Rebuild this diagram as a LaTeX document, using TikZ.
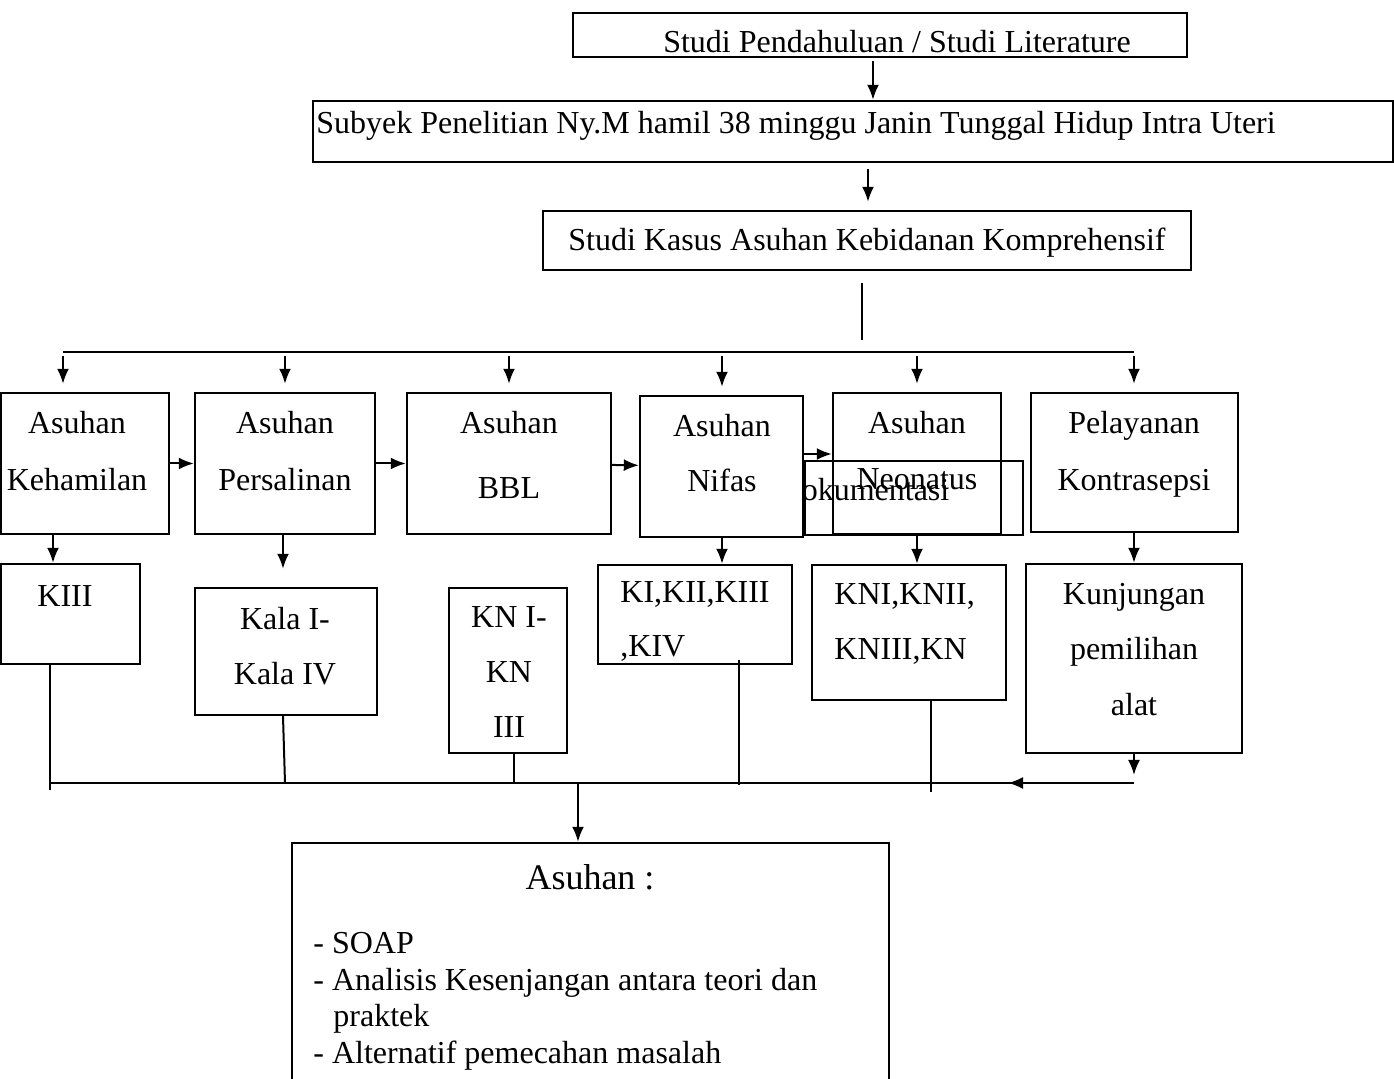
\documentclass[tikz,border=0pt]{standalone}
\usepackage{fontspec}
\setmainfont{Liberation Serif}
\usetikzlibrary{arrows.meta,fit}
\tikzset{
  box/.style={draw, line width=1.2pt, inner sep=0pt},
  txt/.style={anchor=base, inner sep=0pt, font=\fontsize{16}{19}\selectfont},
  ln/.style={line width=1pt},
}
\begin{document}
\begin{tikzpicture}[x=0.5pt, y=-0.5pt, >={Latex[length=7.5pt,width=6pt]}]
\useasboundingbox (0,0) rectangle (1394,1079);

% kepala alur
\node[box, fit={(573,13)(1187,57)}] (studi) {};
\node[txt] (studit) at (897,53) {Studi Pendahuluan / Studi Literature};
\node[box, fit={(313,101)(1393,162)}] (subyek) {};
\node[txt, anchor=base west] (subyekt) at (316,134) {Subyek Penelitian Ny.M hamil 38 minggu Janin Tunggal Hidup Intra Uteri};
\node[box, fit={(543,211)(1191,270)}] (kasus) {};
\node[txt] (kasust) at (867,251) {Studi Kasus Asuhan Kebidanan Komprehensif};

\draw[ln,->, shorten <=1.5pt] (873,0 |- studi.south) -- (873,0 |- subyek.north);
\draw[ln,->, shorten <=3pt, shorten >=4pt] (868,0 |- subyek.south) -- (868,0 |- kasus.north);

\coordinate (topL) at (63,352);
\coordinate (topR) at (1134,352);
\draw[ln, shorten <=6pt, shorten >=6pt] (862,0 |- kasus.south) -- (862,0 |- topL);
\draw[ln] (topL) -- (topR);

% baris asuhan
\node[box, fit={(1,393)(169,534)}] (hamil) {};
\node[txt] (hamil1) at (77,434) {Asuhan};
\node[txt] (hamil2) at (77,491) {Kehamilan};

\node[box, fit={(195,393)(375,534)}] (salin) {};
\node[txt] (salin1) at (285,434) {Asuhan};
\node[txt] (salin2) at (285,491) {Persalinan};

\node[box, fit={(407,393)(611,534)}] (bbl) {};
\node[txt] (bbl1) at (509,434) {Asuhan};
\node[txt] (bbl2) at (509,499) {BBL};

\node[box, fit={(805,461)(1023,535)}] (dok) {};
\node[txt] (dokt) at (864,501) {Dokumentasi};

\node[box, fill=white, fit={(640,396)(803,537)}] (nifas) {};
\node[txt] (nifas1) at (722,437) {Asuhan};
\node[txt] (nifas2) at (722,492) {Nifas};

\node[box, fit={(833,393)(1001,534)}] (neo) {};
\node[txt] (neo1) at (917,434) {Asuhan};
\node[txt] (neo2) at (917,490) {Neonatus};

\node[box, fit={(1031,393)(1238,532)}] (kb) {};
\node[txt] (kb1) at (1134,434) {Pelayanan};
\node[txt] (kb2) at (1134,491) {Kontrasepsi};

\foreach \x/\n in {63/hamil,285/salin,509/bbl,722/nifas,917/neo,1134/kb}
  \draw[ln,->, shorten <=2pt, shorten >=4pt] (\x,0 |- topL) -- (\x,0 |- \n.north);

\draw[ln,->] (hamil) -- (salin);
\draw[ln,->] (salin) -- (bbl);
\draw[ln,->] (bbl) -- (nifas);
\draw[ln,->] (nifas.east |- 0,454) -- (neo.west |- 0,454);

% baris kunjungan
\node[box, fit={(1,564)(140,664)}] (kiii) {};
\node[txt] (kiiit) at (65,607) {KIII};

\node[box, fit={(195,588)(377,715)}] (kala) {};
\node[txt] (kala1) at (285,630) {Kala I-};
\node[txt] (kala2) at (285,685) {Kala IV};

\node[box, fit={(449,588)(567,753)}] (kn) {};
\node[txt] (kn1) at (509,628) {KN I-};
\node[txt] (kn2) at (509,683) {KN};
\node[txt] (kn3) at (509,738) {III};

\node[box, fit={(598,565)(792,664)}] (ki) {};
\node[txt, anchor=base west] (ki1) at (620,603) {KI,KII,KIII};
\node[txt, anchor=base west] (ki2) at (620,657) {,KIV};

\node[box, fit={(812,565)(1006,700)}] (kni) {};
\node[txt, anchor=base west] (kni1) at (834,605) {KNI,KNII,};
\node[txt, anchor=base west] (kni2) at (834,660) {KNIII,KN};

\node[box, fit={(1026,564)(1242,753)}] (kunj) {};
\node[txt] (kunj1) at (1134,605) {Kunjungan};
\node[txt] (kunj2) at (1134,660) {pemilihan};
\node[txt] (kunj3) at (1134,716) {alat};

\draw[ln,->] (53,0 |- hamil.south) -- (53,0 |- kiii.north);
\draw[ln,->, shorten >=9pt] (283,0 |- salin.south) -- (283,0 |- kala.north);
\draw[ln,->] (722,0 |- nifas.south) -- (722,0 |- ki.north);
\draw[ln,->] (917,0 |- neo.south) -- (917,0 |- kni.north);
\draw[ln,->] (1134,0 |- kb.south) -- (1134,0 |- kunj.north);

% garis pengumpul
\coordinate (botL) at (50,783);
\coordinate (botR) at (1134,783);
\draw[ln] (50,0 |- kiii.south) -- (50,790);
\draw[ln] (283,0 |- kala.south) -- (285,0 |- botL);
\draw[ln] (514,0 |- kn.south) -- (514,0 |- botL);
\draw[ln] (739,660) -- (739,785);
\draw[ln] (931,0 |- kni.south) -- (931,792);
\draw[ln,->] (1134,0 |- kunj.south) -- (1134,775);
\draw[ln] (botL) -- (botR);
\draw[ln,->] (botR) -- (1008,783);

% asuhan akhir
\node[box, fit={(292,843)(889,1100)}] (asuhan) {};
\node[txt, font=\fontsize{18}{21}\selectfont] (asuhant) at (590,890) {Asuhan :};
\node[txt, anchor=base west] (soap) at (313,954) {- SOAP};
\node[txt, anchor=base west] (analisis) at (313,991) {- Analisis Kesenjangan antara teori dan};
\node[txt, anchor=base west] (praktek) at (333,1027) {praktek};
\node[txt, anchor=base west] (alt) at (313,1064) {- Alternatif pemecahan masalah};

\draw[ln,->] (578,0 |- botL) -- (578,0 |- asuhan.north);
\end{tikzpicture}
\end{document}
